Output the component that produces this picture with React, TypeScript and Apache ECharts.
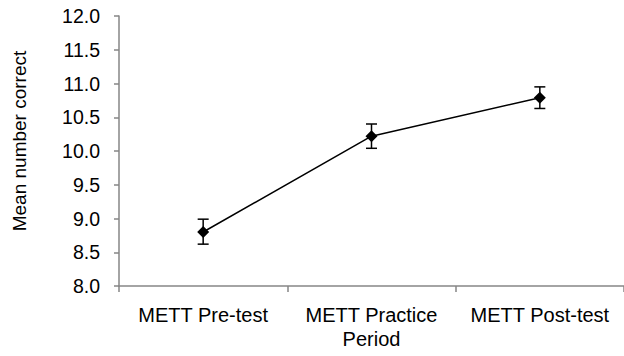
import React, { useEffect, useRef } from "react";
import * as echarts from "echarts";

const categories = ["METT Pre-test", "METT Practice\nPeriod", "METT Post-test"];
const means = [8.8, 10.22, 10.79];
const errLow = [8.62, 10.04, 10.63];
const errHigh = [8.99, 10.4, 10.95];
const yTicks = { min: 8, max: 12, interval: 0.5 };
const yTitle = "Mean number correct";

export default function App() {
  const ref = useRef<HTMLDivElement>(null);
  useEffect(() => {
    if (!ref.current) return;
    const chart = echarts.init(ref.current, undefined, { renderer: "svg" });
    const font = "'Liberation Sans', Arial, sans-serif";
    chart.setOption({
      animation: false,
      backgroundColor: "#ffffff",
      textStyle: { fontFamily: font },
      grid: { left: 119, top: 16, bottom: 70, right: -3 },
      xAxis: {
        type: "category",
        data: categories,
        boundaryGap: true,
        axisLine: { lineStyle: { color: "#868686", width: 1.5 } },
        axisTick: { show: true, length: 6, lineStyle: { color: "#868686", width: 1.5 } },
        axisLabel: {
          color: "#000",
          fontSize: 20,
          fontFamily: font,
          margin: 17,
          lineHeight: 24,
          interval: 0,
        },
        splitLine: { show: false },
      },
      yAxis: {
        type: "value",
        min: yTicks.min,
        max: yTicks.max,
        interval: yTicks.interval,
        axisLine: { show: true, lineStyle: { color: "#868686", width: 1.5 } },
        axisTick: { show: true, length: 5, lineStyle: { color: "#868686", width: 1.5 } },
        axisLabel: {
          color: "#000",
          fontSize: 19.5,
          fontFamily: font,
          margin: 19,
          formatter: (v: number) => v.toFixed(1),
        },
        splitLine: { show: false },
      },
      graphic: [
        {
          type: "text",
          x: 19,
          y: 141,
          rotation: Math.PI / 2,
          style: {
            text: yTitle,
            fill: "#000",
            font: `19px ${font}`,
            textAlign: "center",
            textVerticalAlign: "middle",
          },
        },
      ],
      series: [
        {
          type: "custom",
          data: categories.map((_, i) => [i, errLow[i], errHigh[i]]),
          z: 3,
          renderItem: (params: any, api: any) => {
            const x = api.value(0);
            const lo = api.coord([x, api.value(1)]);
            const hi = api.coord([x, api.value(2)]);
            const hw = 5.5;
            const style = { stroke: "#000", lineWidth: 1.5 };
            return {
              type: "group",
              children: [
                { type: "line", shape: { x1: lo[0], y1: lo[1], x2: hi[0], y2: hi[1] }, style },
                { type: "line", shape: { x1: lo[0] - hw, y1: lo[1], x2: lo[0] + hw, y2: lo[1] }, style },
                { type: "line", shape: { x1: hi[0] - hw, y1: hi[1], x2: hi[0] + hw, y2: hi[1] }, style },
              ],
            };
          },
        },
        {
          type: "line",
          data: means,
          z: 4,
          symbol: "diamond",
          symbolSize: 12,
          lineStyle: { color: "#000", width: 1.5 },
          itemStyle: { color: "#000" },
        },
      ],
    });
    return () => chart.dispose();
  }, []);
  return (
    <div
      ref={ref}
      style={{ position: "fixed", left: 0, top: 0, width: 624, height: 356 }}
    />
  );
}
